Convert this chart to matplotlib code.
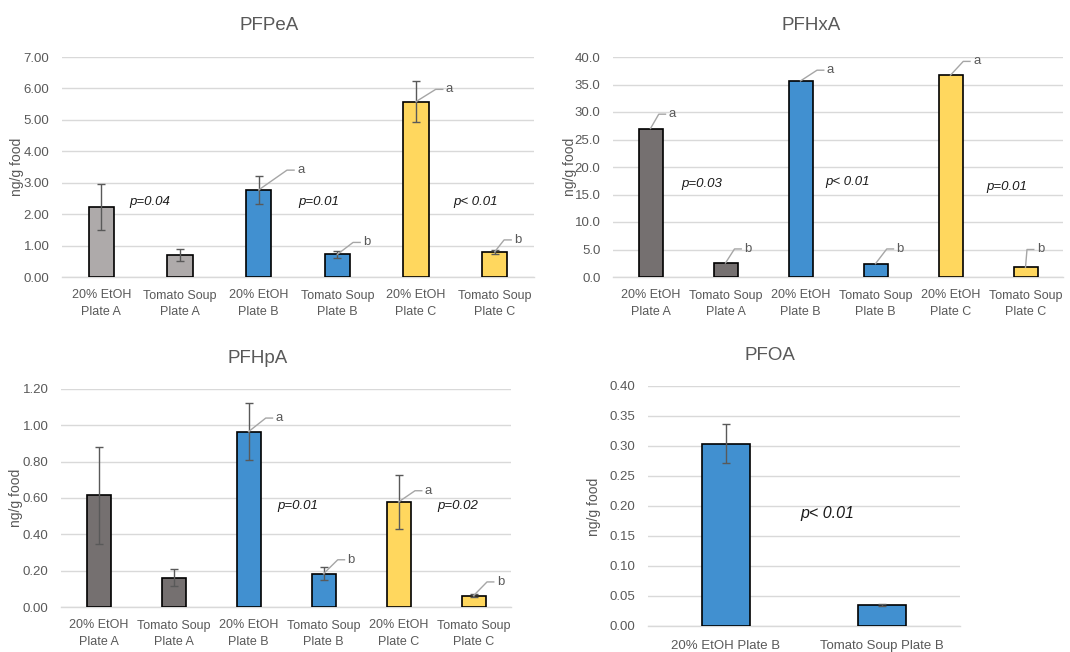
import matplotlib.pyplot as plt

plt.rcParams["font.family"] = ["Liberation Sans", "DejaVu Sans"]

# ── Data ──
cats6 = ["20% EtOH\nPlate A", "Tomato Soup\nPlate A", "20% EtOH\nPlate B",
         "Tomato Soup\nPlate B", "20% EtOH\nPlate C", "Tomato Soup\nPlate C"]
cats_pfoa = ["20% EtOH Plate B", "Tomato Soup Plate B"]

pfpea_vals = [2.23, 0.70, 2.77, 0.72, 5.58, 0.80]
pfpea_err = [0.72, 0.18, 0.45, 0.12, 0.66, 0.06]

pfhxa_vals = [27.0, 2.55, 35.65, 2.42, 36.7, 1.75]

pfhpa_vals = [0.615, 0.162, 0.965, 0.183, 0.578, 0.062]
pfhpa_err = [0.267, 0.047, 0.158, 0.035, 0.147, 0.009]

pfoa_vals = [0.304, 0.035]
pfoa_err = [0.033, 0.001]

# ── Colours ──
LIGHT_GRAY = "#AEAAAA"
DARK_GRAY = "#757070"
BLUE = "#4190D0"
YELLOW = "#FFD75E"
TXT = "#595959"
GRID = "#D9D9D9"

W, H = 1070, 652
fig = plt.figure(figsize=(W / 100, H / 100), dpi=100)
fig.patch.set_facecolor("white")


def px_axes(left, right, top, bottom):
    return fig.add_axes([left / W, 1 - bottom / H, (right - left) / W, (bottom - top) / H])


def style(ax, ymax, step, fmt):
    ticks = [i * step for i in range(int(round(ymax / step)) + 1)]
    ax.set_ylim(0, ymax)
    ax.set_yticks(ticks)
    ax.set_yticklabels([fmt.format(t) for t in ticks])
    ax.grid(axis="y", color=GRID, lw=1)
    ax.set_axisbelow(True)
    for s in ["top", "right", "left"]:
        ax.spines[s].set_visible(False)
    ax.spines["bottom"].set_color(GRID)
    ax.spines["bottom"].set_linewidth(1)
    ax.tick_params(axis="both", length=0, colors=TXT)
    ax.tick_params(axis="y", pad=9, labelsize=9.5)
    ax.tick_params(axis="x", pad=9, labelsize=9)


def bars(ax, vals, colors, err=None, cats=cats6, width=0.32):
    x = list(range(len(vals)))
    ax.bar(x, vals, width=width, color=colors, edgecolor="black", lw=1.2, zorder=3)
    if err is not None:
        ax.errorbar(x, vals, yerr=err, fmt="none", ecolor="#595959", elinewidth=1,
                    capsize=3, capthick=1, zorder=4)
    ax.set_xlim(-0.5, len(vals) - 0.5)
    ax.set_xticks(x)
    ax.set_xticklabels(cats, linespacing=1.45)


def letter(ax, i, v, xl, yl, txt):
    ax.plot([i, xl - 0.13, xl - 0.04], [v, yl, yl], color="#A6A6A6", lw=1, zorder=5)
    ax.text(xl, yl, txt, ha="left", va="center", fontsize=9.5, color=TXT, zorder=6)


def pval(ax, x, y, txt, size=9.5):
    ax.text(x, y, txt, ha="center", va="center", fontsize=size, style="italic",
            color="#1a1a1a", zorder=6)


def ylab(x, y, txt="ng/g food"):
    fig.text(x / W, 1 - y / H, txt, rotation=90, ha="center", va="center",
             fontsize=10, color=TXT)


def title(x, y, txt):
    fig.text(x / W, 1 - y / H, txt, ha="center", va="center", fontsize=13.5, color=TXT)


# ══ PFPeA ══
ax1 = px_axes(62, 534, 57, 277)
style(ax1, 7, 1, "{:.2f}")
bars(ax1, pfpea_vals, [LIGHT_GRAY, LIGHT_GRAY, BLUE, BLUE, YELLOW, YELLOW], pfpea_err)
letter(ax1, 2, pfpea_vals[2], 2.49, 3.40, "a")
letter(ax1, 3, pfpea_vals[3], 3.33, 1.10, "b")
letter(ax1, 4, pfpea_vals[4], 4.38, 5.97, "a")
letter(ax1, 5, pfpea_vals[5], 5.25, 1.18, "b")
pval(ax1, 0.62, 2.38, "p=0.04")
pval(ax1, 2.76, 2.38, "p=0.01")
pval(ax1, 4.76, 2.38, "p< 0.01")
title(269, 25, "PFPeA")
ylab(17, 167)

# ══ PFHxA ══
ax2 = px_axes(613, 1063, 57, 277)
style(ax2, 40, 5, "{:.1f}")
bars(ax2, pfhxa_vals, [DARK_GRAY, DARK_GRAY, BLUE, BLUE, YELLOW, YELLOW])
letter(ax2, 0, pfhxa_vals[0], 0.24, 29.6, "a")
letter(ax2, 1, pfhxa_vals[1], 1.25, 5.1, "b")
letter(ax2, 2, pfhxa_vals[2], 2.35, 37.6, "a")
letter(ax2, 3, pfhxa_vals[3], 3.28, 5.1, "b")
letter(ax2, 4, pfhxa_vals[4], 4.30, 39.2, "a")
letter(ax2, 5, pfhxa_vals[5], 5.15, 5.0, "b")
pval(ax2, 0.68, 16.9, "p=0.03")
pval(ax2, 2.63, 17.2, "p< 0.01")
pval(ax2, 4.75, 16.3, "p=0.01")
title(811, 25, "PFHxA")
ylab(570, 167)

# ══ PFHpA ══
ax3 = px_axes(61, 511, 389, 607)
style(ax3, 1.2, 0.2, "{:.2f}")
bars(ax3, pfhpa_vals, [DARK_GRAY, DARK_GRAY, BLUE, BLUE, YELLOW, YELLOW], pfhpa_err)
letter(ax3, 2, pfhpa_vals[2], 2.36, 1.04, "a")
letter(ax3, 3, pfhpa_vals[3], 3.32, 0.26, "b")
letter(ax3, 4, pfhpa_vals[4], 4.35, 0.64, "a")
letter(ax3, 5, pfhpa_vals[5], 5.31, 0.138, "b")
pval(ax3, 2.66, 0.558, "p=0.01")
pval(ax3, 4.79, 0.558, "p=0.02")
title(258, 358, "PFHpA")
ylab(16, 498)

# ══ PFOA ══
ax4 = px_axes(648, 960, 386, 626)
style(ax4, 0.4, 0.05, "{:.2f}")
bars(ax4, pfoa_vals, [BLUE, BLUE], pfoa_err, cats=cats_pfoa, width=0.31)
ax4.tick_params(axis="x", pad=10, labelsize=9.5)
pval(ax4, 0.65, 0.1875, "p< 0.01", size=11.5)
title(770, 355, "PFOA")
ylab(594, 507)

fig.savefig("out.png", dpi=100, facecolor="white")
